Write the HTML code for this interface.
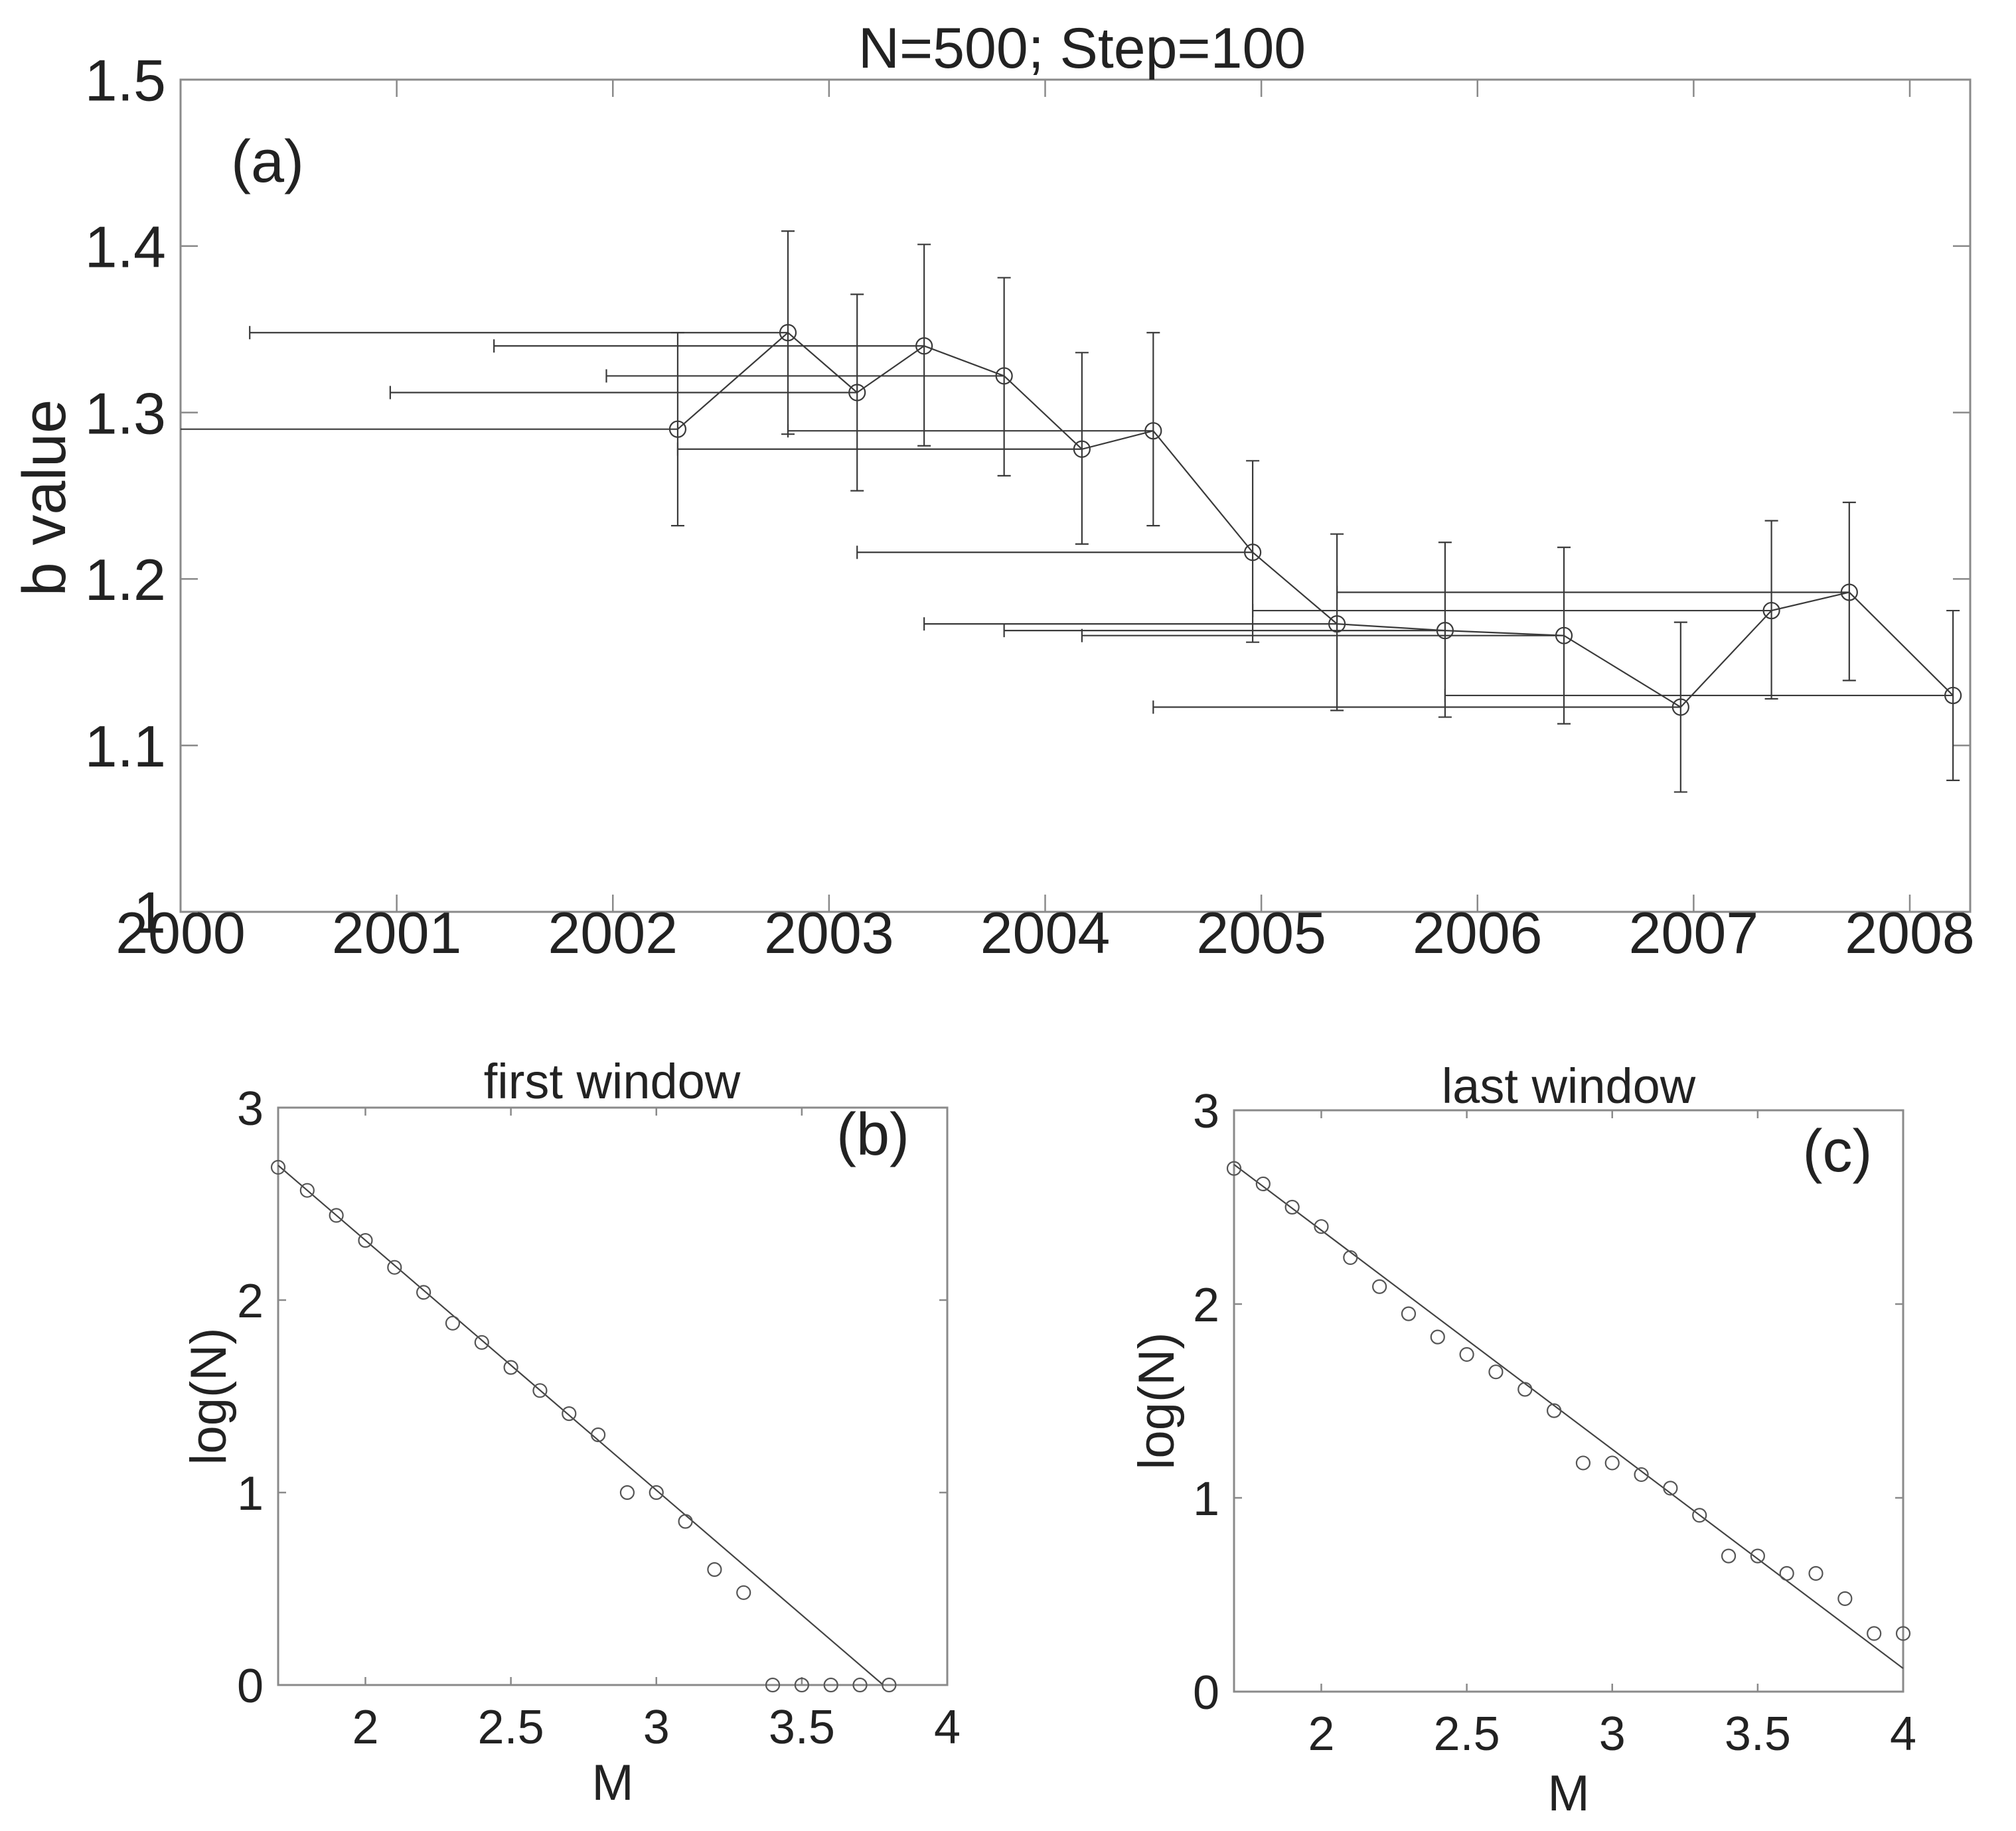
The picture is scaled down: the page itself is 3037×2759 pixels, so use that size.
<!DOCTYPE html>
<html><head><meta charset="utf-8"><style>
html,body{margin:0;padding:0;background:#fff}
svg{display:block}
text{font-family:"Liberation Sans",sans-serif;fill:#222}
</style></head><body>
<svg id="fig" width="3037" height="2759" viewBox="0 0 3037 2759" xmlns="http://www.w3.org/2000/svg">
<rect width="3037" height="2759" fill="#fff"/>
<g id="pa"></g>
<g id="pb"></g>
<g id="pc"></g>
</svg>
<script>
// Panel (a) data
const aTime=[2002.30,2002.81,2003.13,2003.44,2003.81,2004.17,2004.50,2004.96,2005.35,2005.85,2006.40,2006.94,2007.36,2007.72,2008.20];
const aB=[1.290,1.348,1.312,1.340,1.322,1.278,1.289,1.216,1.173,1.169,1.166,1.123,1.181,1.192,1.130];
const aLow=[1.232,1.287,1.253,1.280,1.262,1.221,1.232,1.162,1.121,1.117,1.113,1.072,1.128,1.139,1.079];
const aHigh=[1.348,1.409,1.371,1.401,1.381,1.336,1.348,1.271,1.227,1.222,1.219,1.174,1.235,1.246,1.181];
const aStart=[1999.5,2000.32,2000.97,2001.45,2001.97,2002.30,2002.81,2003.13,2003.44,2003.81,2004.17,2004.50,2004.96,2005.35,2005.85];
const aXTicks=[2000,2001,2002,2003,2004,2005,2006,2007,2008];
const aYTicks=[1,1.1,1.2,1.3,1.4,1.5];
// Panel (b) data
const bM=[1.7,1.8,1.9,2.0,2.1,2.2,2.3,2.4,2.5,2.6,2.7,2.8,2.9,3.0,3.1,3.2,3.3,3.4,3.5,3.6,3.7,3.8];
const bLogN=[2.69,2.57,2.44,2.31,2.17,2.04,1.88,1.78,1.65,1.53,1.41,1.30,1.00,1.00,0.85,0.60,0.48,0,0,0,0,0];
const bFit=[[1.7,2.70],[3.78,0]];
// Panel (c) data
const cM=[1.7,1.8,1.9,2.0,2.1,2.2,2.3,2.4,2.5,2.6,2.7,2.8,2.9,3.0,3.1,3.2,3.3,3.4,3.5,3.6,3.7,3.8,3.9,4.0];
const cLogN=[2.70,2.62,2.50,2.40,2.24,2.09,1.95,1.83,1.74,1.65,1.56,1.45,1.18,1.18,1.12,1.05,0.91,0.70,0.70,0.61,0.61,0.48,0.30,0.30];
const cFit=[[1.7,2.72],[4.0,0.12]];
const mTicks=[2,2.5,3,3.5,4];
const nTicks=[0,1,2,3];

const NS="http://www.w3.org/2000/svg";
function mk(parent,tag,attrs,txt){const e=document.createElementNS(NS,tag);for(const k in attrs)e.setAttribute(k,attrs[k]);if(txt!==undefined)e.textContent=txt;parent.appendChild(e);return e;}

function axes(g,L,T,R,B,xs,ys,xt,yt,tickLen,fs,xlabY,ylabX){
  const box=mk(g,'rect',{x:L,y:T,width:R-L,height:B-T,fill:'none',stroke:'#8a8a8a','stroke-width':3});
  
  
  xt.forEach(v=>{const x=xs(v);
    mk(g,'line',{x1:x,y1:B,x2:x,y2:B-tickLen,stroke:'#8a8a8a','stroke-width':2.5});
    mk(g,'line',{x1:x,y1:T,x2:x,y2:T+tickLen,stroke:'#8a8a8a','stroke-width':2.5});
    const t=mk(g,'text',{x:x,y:xlabY,'font-size':fs,'text-anchor':'middle'},String(v));
    
    
  });
  yt.forEach(v=>{const y=ys(v);
    mk(g,'line',{x1:L,y1:y,x2:L+tickLen,y2:y,stroke:'#8a8a8a','stroke-width':2.5});
    mk(g,'line',{x1:R,y1:y,x2:R-tickLen,y2:y,stroke:'#8a8a8a','stroke-width':2.5});
    const t=mk(g,'text',{x:ylabX,y:y+fs*0.36,'font-size':fs,'text-anchor':'end'},String(v));
    
    
  });
}

// ---- Panel a
(function(){
  const g=document.getElementById('pa');
  const L=272,R=2968,T=120,B=1374;
  const xs=v=>272+(v-2000)*(2877-272)/8;
  const ys=v=>B-(v-1)*(B-T)/0.5;
  axes(g,L,T,R,B,xs,ys,aXTicks,aYTicks,26,88,1436,250);
  const title=mk(g,'text',{x:1630,y:102,'font-size':86,'text-anchor':'middle'},'N=500; Step=100');
  
  
  const yl=mk(g,'text',{x:0,y:0,'font-size':92,'text-anchor':'middle',transform:'translate(98,750) rotate(-90)'},'b value');
  
  
  const lab=mk(g,'text',{x:403,y:274,'font-size':90,'text-anchor':'middle'},'(a)');
  
  
  const clip=mk(g,'clipPath',{id:'clipA'});mk(clip,'rect',{x:L,y:T,width:R-L,height:B-T});
  const dg=mk(g,'g',{'clip-path':'url(#clipA)',stroke:'#3a3a3a','stroke-width':2.2,fill:'none'});
  aTime.forEach((t,i)=>{
    const x=xs(t),y=ys(aB[i]),x0=xs(aStart[i]);
    const h=mk(dg,'line',{x1:x0,y1:y,x2:x,y2:y});
    
    
    mk(dg,'line',{x1:x0,y1:y-10,x2:x0,y2:y+10});
    const v=mk(dg,'line',{x1:x,y1:ys(aLow[i]),x2:x,y2:ys(aHigh[i])});
    
    
    mk(dg,'line',{x1:x-10,y1:ys(aLow[i]),x2:x+10,y2:ys(aLow[i])});
    mk(dg,'line',{x1:x-10,y1:ys(aHigh[i]),x2:x+10,y2:ys(aHigh[i])});
  });
  const pts=aTime.map((t,i)=>xs(t)+','+ys(aB[i])).join(' ');
  const pl=mk(dg,'polyline',{points:pts});
  
  
  aTime.forEach((t,i)=>{
    const c=mk(dg,'circle',{cx:xs(t),cy:ys(aB[i]),r:12});
    
    
  });
})();

function gr(id,L,R,T,B,M,N,fit,title,titleX,titleY,lab,labX,labY,mY,ylX){
  const g=document.getElementById(id);
  const xs=v=>L+(v-1.7)*(R-L)/2.3;
  const ys=v=>B-v*(B-T)/3;
  axes(g,L,T,R,B,xs,ys,mTicks,nTicks,12,72,B+88,L-22);
  const t=mk(g,'text',{x:titleX,y:titleY,'font-size':74,'text-anchor':'middle'},title);
  
  
  const yl=mk(g,'text',{x:0,y:0,'font-size':76,'text-anchor':'middle',transform:'translate('+ylX+','+((T+B)/2)+') rotate(-90)'},'log(N)');
  
  
  const xl=mk(g,'text',{x:(L+R)/2,y:mY,'font-size':76,'text-anchor':'middle'},'M');
  
  
  const pl=mk(g,'text',{x:labX,y:labY,'font-size':90,'text-anchor':'middle'},lab);
  
  
  const fl=mk(g,'line',{x1:xs(fit[0][0]),y1:ys(fit[0][1]),x2:xs(fit[1][0]),y2:ys(fit[1][1]),stroke:'#444','stroke-width':2.2});
  
  
  M.forEach((m,i)=>{
    const c=mk(g,'circle',{cx:xs(m),cy:ys(N[i]),r:10,fill:'none',stroke:'#555','stroke-width':2.2});
    
    
  });
}
gr('pb',419,1427,1669,2539,bM,bLogN,bFit,'first window',922,1655,'(b)',1315,1740,2712,340);
gr('pc',1859,2867,1673,2549,cM,cLogN,cFit,'last window',2363,1662,'(c)',2768,1765,2728,1768);
</script>
</body></html>
